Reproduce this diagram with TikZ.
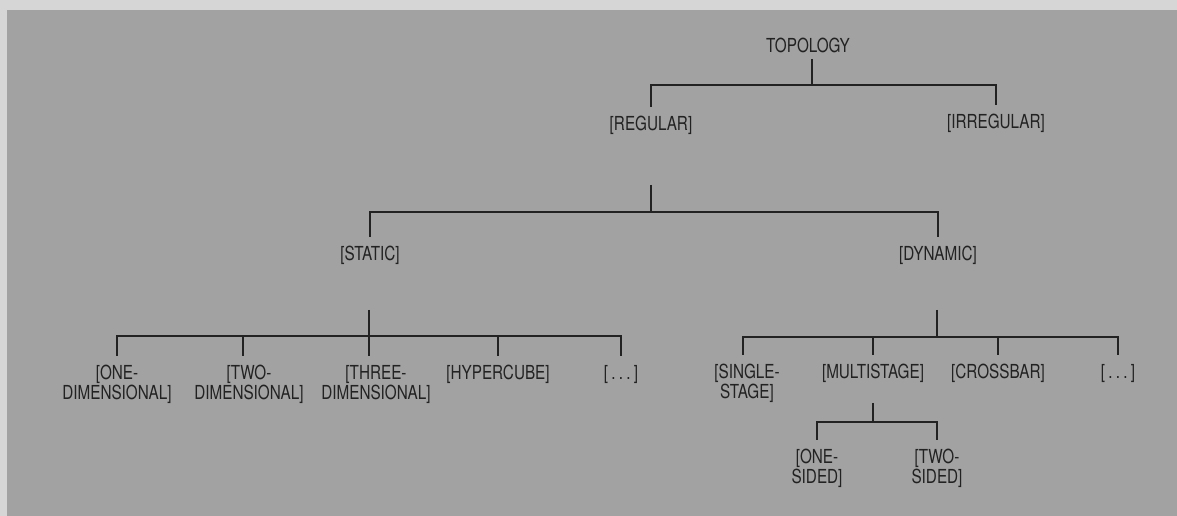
\documentclass[tikz,border=0pt]{standalone}
\usepackage{fontspec}
\setmainfont{TeX Gyre Heros}[FakeStretch=0.79]

\definecolor{paper}{HTML}{D6D6D6}
\definecolor{panel}{HTML}{A2A2A2}
\definecolor{ink}{HTML}{222222}

\begin{document}
\begin{tikzpicture}[
    x=0.02cm,
    y=-0.02cm,
    term/.style={
        font=\fontsize{11}{11.4}\selectfont,
        text=ink,
        inner xsep=1pt,
        inner ysep=5pt,
        align=center,
        anchor=north
    },
    branch/.style={
        draw=ink,
        line width=1.1pt
    }
]

% Background
\fill[paper] (0,0) rectangle (1177,516);
\fill[panel] (7,10) rectangle (1177,516);
\useasboundingbox (0,0) rectangle (1177,516);

% Nodes
\node[term, anchor=center] (topology) at (808,45) {TOPOLOGY};
\node[term] (regular) at (651,107) {[REGULAR]};
\node[term] (irregular) at (996,105) {[IRREGULAR]};

\node[term] (static) at (370,237) {[STATIC]};
\node[term] (dynamic) at (938,237) {[DYNAMIC]};

\node[term] (onedim) at (117,356) {[ONE-\\DIMENSIONAL]};
\node[term] (twodim) at (249,356) {[TWO-\\DIMENSIONAL]};
\node[term] (threedim) at (376,356) {[THREE-\\DIMENSIONAL]};
\node[term] (hypercube) at (498,356) {[HYPERCUBE]};
\node[term] (sdots) at (621,356) {[\,.\,.\,.\,]};

\node[term] (single) at (747,355) {[SINGLE-\\STAGE]};
\node[term] (multi) at (873,355) {[MULTISTAGE]};
\node[term] (crossbar) at (998,355) {[CROSSBAR]};
\node[term] (ddots) at (1118,355) {[\,.\,.\,.\,]};

\node[term] (onesided) at (817,440) {[ONE-\\SIDED]};
\node[term] (twosided) at (937,440) {[TWO-\\SIDED]};

% Junctions
\coordinate (t-top) at (812,59);
\coordinate (t-bar) at (812,85);
\coordinate (r-top) at (651,185);
\coordinate (r-bar) at (651,212);
\coordinate (s-top) at (369,310);
\coordinate (s-bar) at (369,336);
\coordinate (d-top) at (937,310);
\coordinate (d-bar) at (937,337);
\coordinate (m-top) at (873,403);
\coordinate (m-bar) at (873,422);

% Branches
\draw[branch] (t-top) -- (t-bar);
\draw[branch] (regular.north) |- (t-bar) -| (irregular.north);

\draw[branch] (r-top) -- (r-bar);
\draw[branch] (static.north) |- (r-bar) -| (dynamic.north);

\draw[branch] (s-top) -- (s-bar);
\draw[branch] (onedim.north) |- (s-bar) -| (sdots.north);
\draw[branch] ([xshift=-0.12cm]twodim.north) -- ([xshift=-0.12cm]twodim.north |- s-bar);
\draw[branch] (s-bar) -- (s-bar |- threedim.north);
\draw[branch] (hypercube.north) -- (hypercube.north |- s-bar);

\draw[branch] (d-top) -- (d-bar);
\draw[branch] ([xshift=-0.08cm]single.north) |- (d-bar) -| (ddots.north);
\draw[branch] (multi.north) -- (multi.north |- d-bar);
\draw[branch] (crossbar.north) -- (crossbar.north |- d-bar);

\draw[branch] (m-top) -- (m-bar);
\draw[branch] (onesided.north) |- (m-bar) -| (twosided.north);

\end{tikzpicture}
\end{document}
